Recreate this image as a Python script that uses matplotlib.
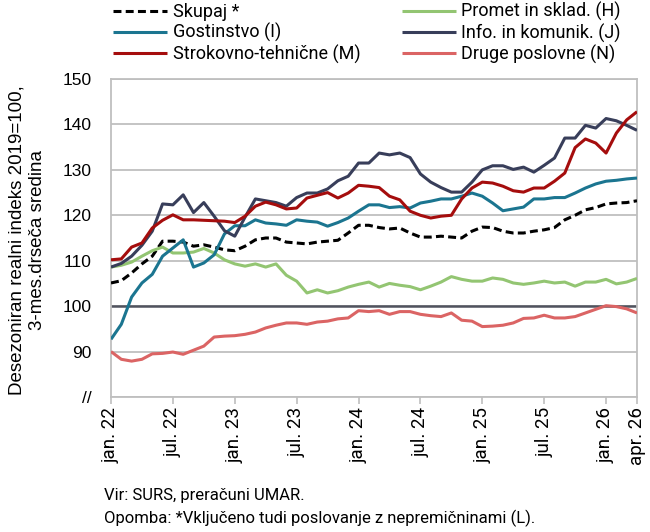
import matplotlib
matplotlib.use("Agg")
import matplotlib.pyplot as plt

# monthly data, jan 2022 - apr 2026 (3-month moving average, 2019=100)
months = [f"{m}. {y}" for y in ("22", "23", "24", "25", "26")
          for m in ("jan", "feb", "mar", "apr", "maj", "jun",
                    "jul", "avg", "sep", "okt", "nov", "dec")][:52]

skupaj = [105.1, 105.6, 107.3, 109.3, 111.0, 114.3, 114.3, 114.1, 113.2, 113.5, 113.0, 112.4, 112.2,
          113.2, 114.6, 115.0, 115.0, 114.1, 113.9, 113.7, 114.1, 114.3, 114.5, 116.1, 117.8,
          117.8, 117.3, 117.0, 117.2, 116.1, 115.2, 115.2, 115.4, 115.2, 115.0, 116.5, 117.4, 117.3,
          116.5, 116.1, 116.1, 116.5, 116.8, 117.3, 119.0, 120.0, 121.2, 121.7, 122.5, 122.7, 122.8, 123.2]
promet = [108.6, 109.0, 109.7, 111.0, 112.2, 113.0, 111.7, 111.7, 111.9, 112.7, 111.7, 110.2, 109.3,
          108.8, 109.3, 108.6, 109.3, 106.8, 105.5, 102.9, 103.6, 102.9, 103.4, 104.2, 104.8,
          105.3, 104.2, 105.0, 104.6, 104.3, 103.6, 104.4, 105.3, 106.5, 105.9, 105.5, 105.5, 106.2,
          105.9, 105.1, 104.8, 105.1, 105.5, 105.1, 105.3, 104.4, 105.3, 105.3, 105.9, 104.9, 105.3, 106.1]
gostinstvo = [92.7, 96.0, 102.0, 105.1, 107.0, 111.0, 112.8, 114.6, 108.6, 109.5, 111.3, 115.9, 117.7,
              117.7, 119.0, 118.3, 118.1, 117.8, 119.0, 118.7, 118.5, 117.6, 118.4, 119.4, 120.9,
              122.3, 122.3, 121.7, 121.9, 121.6, 122.7, 123.1, 123.6, 123.6, 124.2, 124.9, 124.2, 122.7,
              121.0, 121.4, 121.8, 123.6, 123.6, 123.9, 123.9, 124.9, 126.0, 126.9, 127.5, 127.7, 128.0, 128.2]
info = [108.6, 109.4, 111.0, 113.4, 116.5, 122.5, 122.3, 124.5, 120.6, 122.8, 119.8, 116.6, 115.4,
        119.6, 123.6, 123.2, 122.8, 122.0, 123.9, 124.9, 124.9, 125.8, 127.6, 128.6, 131.5,
        131.5, 133.7, 133.3, 133.7, 132.7, 129.1, 127.3, 126.1, 125.1, 125.1, 127.3, 130.0, 130.9,
        130.9, 130.1, 130.6, 129.5, 131.0, 132.6, 137.0, 137.0, 139.8, 139.2, 141.3, 140.8, 139.8, 138.7]
strokovno = [110.2, 110.4, 113.0, 113.9, 117.2, 118.9, 120.1, 119.0, 119.0, 118.9, 118.8, 118.7, 118.4,
             119.8, 122.0, 122.9, 122.3, 121.4, 121.6, 123.8, 124.4, 125.0, 123.8, 124.9, 126.6,
             126.4, 126.1, 124.2, 123.4, 120.9, 120.0, 119.4, 119.8, 120.0, 123.6, 126.0, 127.3, 127.1,
             126.4, 125.4, 125.1, 126.0, 126.0, 127.5, 129.3, 134.9, 136.8, 135.9, 133.7, 138.1, 141.0, 142.8]
druge = [90.0, 88.3, 87.9, 88.3, 89.5, 89.6, 89.9, 89.4, 90.3, 91.2, 93.2, 93.4, 93.5,
         93.8, 94.3, 95.2, 95.8, 96.3, 96.3, 96.0, 96.5, 96.7, 97.2, 97.4, 99.0,
         98.8, 99.0, 98.2, 98.8, 98.8, 98.2, 97.9, 97.7, 98.5, 96.9, 96.7, 95.5, 95.6,
         95.8, 96.3, 97.3, 97.4, 98.0, 97.4, 97.4, 97.7, 98.5, 99.3, 100.1, 99.9, 99.4, 98.5]

tick_idx = [0, 6, 12, 18, 24, 30, 36, 42, 48, 51]
y_ticks = [80, 90, 100, 110, 120, 130, 140, 150]
y_tick_labels = ["//", "90", "100", "110", "120", "130", "140", "150"]

# series in Excel order: label, values, colour, style
series = [
    ("Skupaj *", skupaj, "#000000", "dash"),
    ("Promet in sklad. (H)", promet, "#93C572", "solid"),
    ("Gostinstvo (I)", gostinstvo, "#1B7590", "solid"),
    ("Info. in komunik. (J)", info, "#383E5A", "solid"),
    ("Strokovno-tehnične (M)", strokovno, "#A50D0D", "solid"),
    ("Druge poslovne (N)", druge, "#DB6464", "solid"),
]

narrow = ["Roboto", "DejaVu Sans"]
arial = ["Liberation Sans", "DejaVu Sans"]
grid_col = "#BFBFBF"

fig = plt.figure(figsize=(6.5, 5.32), dpi=100)
ax = fig.add_axes([111 / 650, 1 - 397 / 532, 526 / 650, 318 / 532])

x = list(range(len(months)))
handles = {}
for label, vals, col, style in series:
    ln, = ax.plot(x, vals, color=col, lw=2.2, solid_capstyle="butt", zorder=3)
    if style == "dash":
        ln.set_dashes((2.6, 1.4))
    handles[label] = ln

# grid and the 100 reference line
ax.set_ylim(80, 150)
ax.set_xlim(0, len(months) - 1)
ax.set_yticks(y_ticks)
ax.set_yticklabels(y_tick_labels, family=arial, fontsize=12.5)
ax.yaxis.grid(True, color=grid_col, lw=1.3, zorder=0)
ax.axhline(100, color="#50535E", lw=1.8, zorder=2)
ax.tick_params(axis="y", length=0, pad=14)

ax.set_xticks(tick_idx)
ax.set_xticklabels([months[i] for i in tick_idx], rotation=90, family=narrow, fontsize=13.5)
ax.tick_params(axis="x", length=5, width=1.2, color=grid_col, pad=2)

for s in ax.spines.values():
    s.set_color(grid_col)
    s.set_linewidth(1.3)

fig.text(0.042, (1 - 240 / 532), "Desezoniran realni indeks 2019=100,\n3-mes.drseča sredina",
         rotation=90, ha="center", va="center", family=arial, fontsize=13.5, linespacing=1.25)

# legend in two columns, filled column-wise
order = ["Skupaj *", "Gostinstvo (I)", "Strokovno-tehnične (M)",
         "Promet in sklad. (H)", "Info. in komunik. (J)", "Druge poslovne (N)"]
fig.legend([handles[k] for k in order], order, ncol=2, loc="upper left",
           bbox_to_anchor=(113 / 650, 1 - 2 / 532), frameon=False,
           prop={"family": narrow, "size": 13}, handlelength=3.0, handletextpad=0.3,
           columnspacing=2.3, labelspacing=0.12, borderpad=0, borderaxespad=0)

fig.text(104 / 650, 1 - 500 / 532, "Vir: SURS, preračuni UMAR.", family=narrow, fontsize=12,
         va="baseline")
fig.text(104 / 650, 1 - 523 / 532, "Opomba: *Vključeno tudi poslovanje z nepremičninami (L).",
         family=narrow, fontsize=12, va="baseline")

fig.savefig("out.png", dpi=100)
